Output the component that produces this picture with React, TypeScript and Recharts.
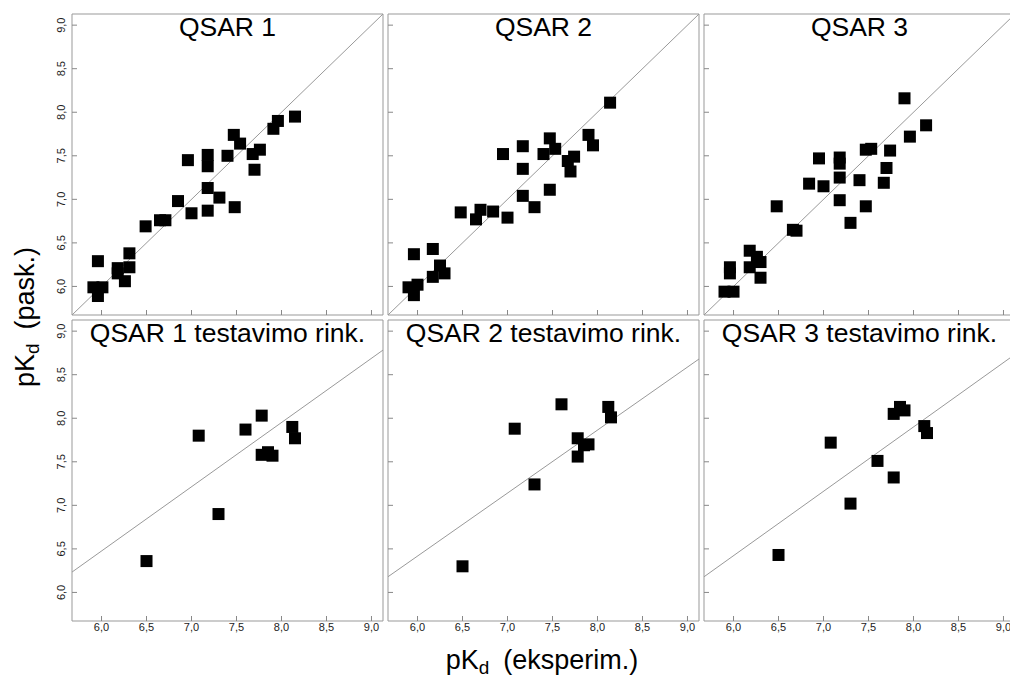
import React from 'react';
import { ScatterChart, Scatter, XAxis, YAxis, ReferenceArea, ReferenceLine } from 'recharts';

const FONT = '"Liberation Sans", Arial, Helvetica, sans-serif';

// axis setup shared by every panel
const AXIS_DOMAIN: [number, number] = [5.672, 9.128];
const AXIS_TICKS = [6, 6.5, 7, 7.5, 8, 8.5, 9];

// training sets: experimental vs predicted pKd
const q1TrainExp = [5.96, 5.91, 6.01, 5.96, 6.18, 6.18, 6.26, 6.31, 6.31, 6.49, 6.65, 6.71, 6.85, 6.96, 7.0, 7.18, 7.18, 7.18, 7.18, 7.31, 7.4, 7.47, 7.48, 7.54, 7.68, 7.76, 7.7, 7.91, 7.96, 8.15];
const q1TrainPred = [6.29, 5.99, 5.99, 5.89, 6.21, 6.15, 6.06, 6.22, 6.38, 6.69, 6.76, 6.76, 6.98, 7.45, 6.84, 7.51, 7.38, 7.13, 6.87, 7.02, 7.5, 7.74, 6.91, 7.64, 7.52, 7.57, 7.34, 7.81, 7.9, 7.95];

const q2TrainExp = [5.96, 5.9, 6.0, 5.96, 6.17, 6.17, 6.25, 6.3, 6.48, 6.65, 6.7, 6.84, 7.0, 6.95, 7.17, 7.17, 7.17, 7.3, 7.4, 7.47, 7.53, 7.47, 7.67, 7.74, 7.7, 7.9, 7.95, 8.14];
const q2TrainPred = [6.37, 5.99, 6.02, 5.9, 6.43, 6.11, 6.24, 6.15, 6.85, 6.77, 6.88, 6.86, 6.79, 7.52, 7.61, 7.35, 7.04, 6.91, 7.52, 7.7, 7.58, 7.11, 7.44, 7.49, 7.32, 7.74, 7.62, 8.11];

const q3TrainExp = [5.9, 6.0, 5.96, 5.96, 6.18, 6.26, 6.3, 6.18, 6.3, 6.48, 6.66, 6.7, 6.84, 6.95, 7.0, 7.18, 7.18, 7.18, 7.18, 7.3, 7.4, 7.47, 7.53, 7.47, 7.67, 7.7, 7.74, 7.9, 7.96, 8.14];
const q3TrainPred = [5.94, 5.94, 6.22, 6.15, 6.41, 6.34, 6.28, 6.22, 6.1, 6.92, 6.65, 6.64, 7.18, 7.47, 7.15, 7.48, 7.41, 7.25, 6.99, 6.73, 7.22, 7.57, 7.58, 6.92, 7.19, 7.36, 7.56, 8.16, 7.72, 7.85];

// test set
const testExp = [6.5, 7.08, 7.3, 7.6, 7.78, 7.78, 7.85, 7.9, 8.12, 8.15];
const q1TestPred = [6.36, 7.8, 6.9, 7.87, 8.03, 7.58, 7.61, 7.57, 7.9, 7.77];
const q2TestPred = [6.3, 7.88, 7.24, 8.16, 7.77, 7.56, 7.69, 7.7, 8.13, 8.01];
const q3TestPred = [6.43, 7.72, 7.02, 7.51, 7.32, 8.05, 8.13, 8.09, 7.91, 7.83];

// fitted lines drawn on the test panels
const testFits = [
  { intercept: 2.05, slope: 0.7376 },
  { intercept: 2.077, slope: 0.7234 },
  { intercept: 1.988, slope: 0.739 },
];

const titles = ['QSAR 1', 'QSAR 2', 'QSAR 3', 'QSAR 1 testavimo rink.', 'QSAR 2 testavimo rink.', 'QSAR 3 testavimo rink.'];

const toPoints = (xs: number[], ys: number[]) => xs.map((x, i) => ({ x, y: ys[i] }));

const panels = [
  { title: titles[0], data: toPoints(q1TrainExp, q1TrainPred), fit: { intercept: 0, slope: 1 } },
  { title: titles[1], data: toPoints(q2TrainExp, q2TrainPred), fit: { intercept: 0, slope: 1 } },
  { title: titles[2], data: toPoints(q3TrainExp, q3TrainPred), fit: { intercept: 0, slope: 1 } },
  { title: titles[3], data: toPoints(testExp, q1TestPred), fit: testFits[0] },
  { title: titles[4], data: toPoints(testExp, q2TestPred), fit: testFits[1] },
  { title: titles[5], data: toPoints(testExp, q3TestPred), fit: testFits[2] },
];

// layout
const COL_LEFT = [71.5, 387.5, 704];
const ROW_TOP = [13.5, 320];
const PW = 311;
const PH = 301;
const Y_AXIS_W = 40;
const X_AXIS_H = 30;
const PAD = 4;

const fmt = (v: number) => v.toFixed(1).replace('.', ',');

const XTick = (props: any) => {
  const { x, y, payload, showLabel } = props;
  return (
    <g>
      <line x1={x} x2={x} y1={y} y2={y - 5} stroke="#888" />
      {showLabel && (
        <text x={x} y={y + 10} textAnchor="middle" fontSize={11} fill="#222" fontFamily={FONT}>
          {fmt(payload.value)}
        </text>
      )}
    </g>
  );
};

const YTick = (props: any) => {
  const { x, y, payload, showLabel } = props;
  const lx = x - 7;
  return (
    <g>
      <line x1={x} x2={x + 5} y1={y} y2={y} stroke="#888" />
      {showLabel && (
        <text x={lx} y={y} transform={`rotate(-90, ${lx}, ${y})`} textAnchor="middle" fontSize={11} fill="#222" fontFamily={FONT}>
          {fmt(payload.value)}
        </text>
      )}
    </g>
  );
};

const SquareDot = (props: any) => {
  const { cx, cy } = props;
  return <rect x={cx - 6} y={cy - 6} width={12} height={12} fill="#000" />;
};

function Panel({ index }: { index: number }) {
  const p = panels[index];
  const row = Math.floor(index / 3);
  const col = index % 3;
  const [lo, hi] = AXIS_DOMAIN;
  const seg = [
    { x: lo, y: p.fit.intercept + p.fit.slope * lo },
    { x: hi, y: p.fit.intercept + p.fit.slope * hi },
  ];
  return (
    <div style={{ position: 'absolute', left: COL_LEFT[col] - Y_AXIS_W, top: ROW_TOP[row] - PAD }}>
      <ScatterChart
        width={Y_AXIS_W + PW + PAD}
        height={PAD + PH + X_AXIS_H}
        margin={{ top: PAD, right: PAD, bottom: 0, left: 0 }}
      >
        <XAxis
          type="number"
          dataKey="x"
          domain={AXIS_DOMAIN}
          ticks={AXIS_TICKS}
          interval={0}
          allowDataOverflow
          height={X_AXIS_H}
          axisLine={false}
          tickLine={false}
          tickSize={0}
          tickMargin={0}
          tick={(t: any) => <XTick {...t} showLabel={row === 1} />}
        />
        <YAxis
          type="number"
          dataKey="y"
          domain={AXIS_DOMAIN}
          ticks={AXIS_TICKS}
          interval={0}
          allowDataOverflow
          width={Y_AXIS_W}
          axisLine={false}
          tickLine={false}
          tickSize={0}
          tickMargin={0}
          tick={(t: any) => <YTick {...t} showLabel={col === 0} />}
        />
        <ReferenceArea
          x1={lo}
          x2={hi}
          y1={lo}
          y2={hi}
          fill="none"
          fillOpacity={0}
          stroke="#999"
          strokeWidth={1}
          ifOverflow="visible"
          label={{ value: p.title, position: 'insideTop', offset: 3, fontSize: 26.5, fill: '#000', fontFamily: FONT }}
        />
        <ReferenceLine segment={seg} stroke="#999" strokeWidth={1} ifOverflow="visible" />
        <Scatter data={p.data} shape={SquareDot} isAnimationActive={false} />
      </ScatterChart>
    </div>
  );
}

export default function App() {
  return (
    <div style={{ position: 'absolute', left: 0, top: 0, width: 1010, height: 677, background: '#fff', overflow: 'hidden', fontFamily: FONT }}>
      {panels.map((_, i) => (
        <Panel key={i} index={i} />
      ))}
      <svg width={1010} height={677} style={{ position: 'absolute', left: 0, top: 0, pointerEvents: 'none' }}>
        <text x={542} y={669} textAnchor="middle" fontSize={27} fontFamily={FONT} fill="#000">
          pK
          <tspan fontSize={19} dy={5}>d</tspan>
          <tspan dx={14} dy={-5}>(eksperim.)</tspan>
        </text>
        <text x={34} y={317} transform="rotate(-90, 34, 317)" textAnchor="middle" fontSize={27} fontFamily={FONT} fill="#000">
          pK
          <tspan fontSize={19} dy={5}>d</tspan>
          <tspan dx={14} dy={-5}>(pask.)</tspan>
        </text>
      </svg>
    </div>
  );
}
